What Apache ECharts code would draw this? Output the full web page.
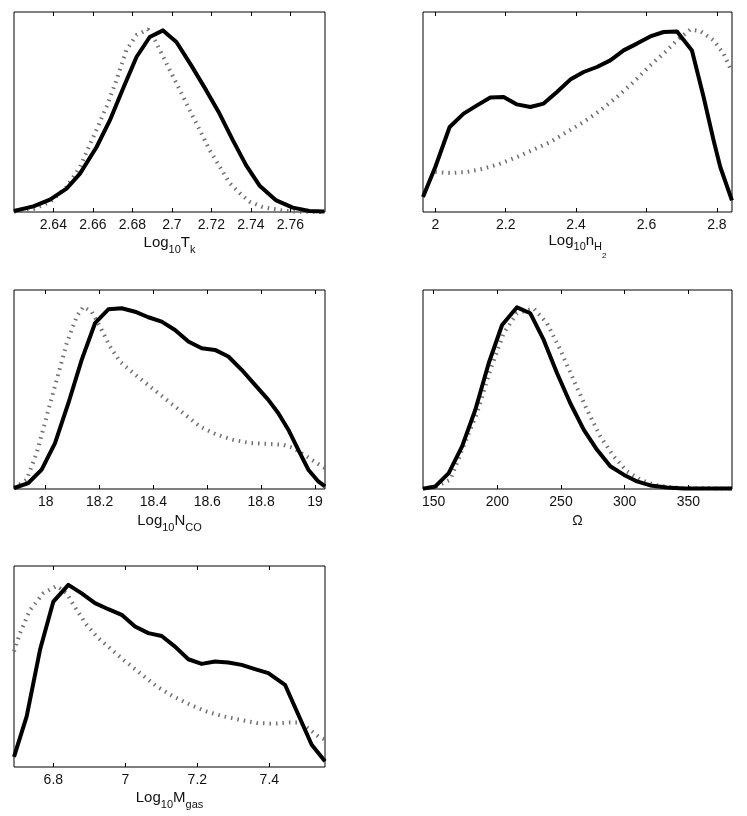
<!DOCTYPE html>
<html>
<head>
<meta charset="utf-8">
<script src="https://cdn.jsdelivr.net/npm/echarts@6/dist/echarts.min.js"></script>
<style>
  html, body { margin: 0; padding: 0; background: #fff; }
  #chart { width: 747px; height: 816px; }
</style>
</head>
<body>
<div id="chart"></div>
<script>
// panel 1: Log10 Tk
const tkTicks = [2.64, 2.66, 2.68, 2.7, 2.72, 2.74, 2.76];
const tkX = [2.6201, 2.6299, 2.6383, 2.6467, 2.6535, 2.6619, 2.6686, 2.6753, 2.6821, 2.6888, 2.6955, 2.7023, 2.7098, 2.7174, 2.7241, 2.7309, 2.7376, 2.7443, 2.7528, 2.7612, 2.7696, 2.7772];
const tkSolid = [0.005, 0.028, 0.062, 0.117, 0.192, 0.325, 0.458, 0.617, 0.775, 0.875, 0.908, 0.85, 0.733, 0.608, 0.492, 0.358, 0.233, 0.133, 0.058, 0.022, 0.005, 0.003];
const tkDotX = [2.6201, 2.6299, 2.6383, 2.6467, 2.6535, 2.6602, 2.6669, 2.672, 2.677, 2.6821, 2.6879, 2.6914, 2.6939, 2.6989, 2.704, 2.709, 2.7141, 2.7191, 2.7242, 2.7292, 2.7343, 2.7393, 2.7459, 2.756, 2.7629, 2.7772];
const tkDotted = [0.002, 0.015, 0.05, 0.125, 0.225, 0.375, 0.525, 0.66, 0.81, 0.885, 0.913, 0.86, 0.81, 0.71, 0.61, 0.51, 0.41, 0.31, 0.227, 0.145, 0.095, 0.052, 0.025, 0.007, 0.002, 0.0];

// panel 2: Log10 nH2
const nhTicks = [2, 2.2, 2.4, 2.6, 2.8];
const nhX = [1.965, 2.0, 2.0407, 2.0805, 2.1184, 2.1563, 2.1941, 2.232, 2.2699, 2.3078, 2.3456, 2.3835, 2.4214, 2.4593, 2.4972, 2.535, 2.5729, 2.6108, 2.6487, 2.6866, 2.7292, 2.7623, 2.7907, 2.8097, 2.8428];
const nhSolid = [0.075, 0.225, 0.425, 0.492, 0.533, 0.572, 0.575, 0.538, 0.525, 0.542, 0.6, 0.662, 0.7, 0.725, 0.758, 0.808, 0.842, 0.878, 0.9, 0.903, 0.808, 0.575, 0.358, 0.225, 0.058];
const nhDotX = [2.0, 2.0426, 2.09, 2.1373, 2.1847, 2.232, 2.2794, 2.3267, 2.3741, 2.4214, 2.4688, 2.5161, 2.5634, 2.6108, 2.6581, 2.6866, 2.7244, 2.7528, 2.7907, 2.8191, 2.8428];
const nhDotted = [0.2, 0.195, 0.2, 0.217, 0.242, 0.275, 0.312, 0.35, 0.4, 0.45, 0.508, 0.575, 0.65, 0.733, 0.808, 0.858, 0.912, 0.905, 0.858, 0.792, 0.7];

// panel 3: Log10 NCO
const ncoTicks = [18, 18.2, 18.4, 18.6, 18.8, 19];
const ncoX = [17.8824, 17.9356, 17.9851, 18.0347, 18.0842, 18.1337, 18.1832, 18.2327, 18.2822, 18.3317, 18.3812, 18.4307, 18.4802, 18.5297, 18.5792, 18.6287, 18.6782, 18.7277, 18.7772, 18.8267, 18.8639, 18.901, 18.9381, 18.9752, 19.0124, 19.0371];
const ncoSolid = [0.005, 0.03, 0.097, 0.231, 0.431, 0.649, 0.833, 0.903, 0.908, 0.891, 0.863, 0.841, 0.799, 0.741, 0.707, 0.699, 0.666, 0.599, 0.523, 0.448, 0.381, 0.298, 0.197, 0.097, 0.038, 0.013];
const ncoDotX = [17.8824, 17.9295, 17.9666, 18.0037, 18.0408, 18.078, 18.1151, 18.1399, 18.1708, 18.2017, 18.2389, 18.276, 18.3255, 18.3874, 18.4493, 18.5111, 18.573, 18.6349, 18.6968, 18.7587, 18.8205, 18.8824, 18.9196, 18.9691, 19.0062, 19.0371];
const ncoDotted = [0.005, 0.047, 0.181, 0.365, 0.548, 0.732, 0.866, 0.916, 0.891, 0.816, 0.716, 0.64, 0.582, 0.515, 0.448, 0.381, 0.314, 0.273, 0.247, 0.231, 0.227, 0.222, 0.206, 0.164, 0.13, 0.105];

// panel 4: Omega
const omTicks = [150, 200, 250, 300, 350];
const omX = [141.6, 151.3, 161.8, 172.3, 182.7, 193.2, 203.7, 215.4, 225.9, 236.4, 246.9, 257.3, 267.8, 278.3, 288.7, 299.2, 309.7, 320.2, 333.2, 346.3, 384.3];
const omSolid = [0.002, 0.013, 0.08, 0.214, 0.398, 0.632, 0.824, 0.913, 0.883, 0.749, 0.582, 0.431, 0.298, 0.197, 0.114, 0.072, 0.038, 0.018, 0.007, 0.002, 0.002];
const omDotX = [141.6, 151.3, 163.1, 172.3, 184.0, 194.5, 205.0, 215.4, 228.5, 239.0, 249.5, 259.9, 270.4, 280.9, 291.4, 301.8, 312.3, 322.8, 333.2, 346.3, 384.3];
const omDotted = [0.002, 0.01, 0.047, 0.197, 0.381, 0.599, 0.783, 0.883, 0.908, 0.833, 0.699, 0.548, 0.398, 0.264, 0.164, 0.089, 0.047, 0.022, 0.01, 0.005, 0.002];

// panel 5: Log10 Mgas
const mgTicks = [6.8, 7, 7.2, 7.4];
const mgX = [6.6907, 6.7259, 6.763, 6.8, 6.8417, 6.8787, 6.9157, 6.9528, 6.9898, 7.0269, 7.0639, 7.1009, 7.138, 7.175, 7.212, 7.2491, 7.2861, 7.3231, 7.3602, 7.3972, 7.4435, 7.4806, 7.5176, 7.5546];
const mgSolid = [0.05, 0.252, 0.583, 0.823, 0.906, 0.864, 0.815, 0.785, 0.757, 0.699, 0.666, 0.652, 0.599, 0.536, 0.513, 0.525, 0.52, 0.508, 0.487, 0.467, 0.409, 0.26, 0.111, 0.028];
const mgDotX = [6.6907, 6.7074, 6.7352, 6.7722, 6.8093, 6.837, 6.8648, 6.8926, 6.9204, 6.9574, 6.9944, 7.0407, 7.087, 7.1333, 7.1796, 7.2259, 7.2722, 7.3185, 7.3648, 7.4111, 7.4574, 7.4852, 7.513, 7.5361, 7.5546];
const mgDotted = [0.575, 0.666, 0.781, 0.864, 0.901, 0.864, 0.781, 0.707, 0.649, 0.591, 0.533, 0.467, 0.401, 0.351, 0.31, 0.276, 0.252, 0.235, 0.219, 0.215, 0.222, 0.222, 0.185, 0.152, 0.136];

const FONT = '"Liberation Sans", Arial, sans-serif';

const panels = [
  { box: [14, 12, 311, 200], min: 2.6201, max: 2.7775, ticks: tkTicks, name: 'Log{s|10}T{s|k}', gap: 19,
    sx: tkX, sy: tkSolid, dx: tkDotX, dy: tkDotted },
  { box: [423, 12, 309, 200], min: 1.965, max: 2.843, ticks: nhTicks, name: 'Log{s|10}n{s|H}{ss|2}', gap: 6,
    sx: nhX, sy: nhSolid, dx: nhDotX, dy: nhDotted },
  { box: [14, 290, 311, 199], min: 17.8824, max: 19.0371, ticks: ncoTicks, name: 'Log{s|10}N{s|CO}', gap: 20,
    sx: ncoX, sy: ncoSolid, dx: ncoDotX, dy: ncoDotted },
  { box: [423, 290, 309, 199], min: 141.6, max: 384.3, ticks: omTicks, name: 'Ω', gap: 25,
    sx: omX, sy: omSolid, dx: omDotX, dy: omDotted },
  { box: [14, 566, 311, 201], min: 6.6907, max: 7.5546, ticks: mgTicks, name: 'Log{s|10}M{s|gas}', gap: 19,
    sx: mgX, sy: mgSolid, dx: mgDotX, dy: mgDotted }
];

const zip = (xs, ys) => xs.map((x, i) => [x, ys[i]]);

const grid = [], xAxis = [], yAxis = [], series = [];
panels.forEach((p, i) => {
  grid.push({
    left: p.box[0], top: p.box[1], width: p.box[2], height: p.box[3],
    show: true, borderColor: '#000', borderWidth: 1, backgroundColor: '#fff'
  });
  const base = {
    type: 'value', gridIndex: i, min: p.min, max: p.max,
    splitLine: { show: false },
    axisLine: { show: false },
    axisTick: { show: true, inside: true, length: 4, customValues: p.ticks, lineStyle: { color: '#000', width: 1 } }
  };
  xAxis.push(Object.assign({}, base, {
    position: 'bottom',
    name: p.name, nameLocation: 'middle', nameGap: p.gap,
    nameTextStyle: {
      color: '#111', fontFamily: FONT, fontSize: p.name === 'Ω' ? 14 : 15,
      rich: {
        s: { fontSize: 11, fontFamily: FONT, color: '#111', padding: [13, 0, 0, 0] },
        ss: { fontSize: 8, fontFamily: FONT, color: '#111', padding: [30, 0, 0, 0] }
      }
    },
    axisLabel: {
      show: true, customValues: p.ticks, margin: 6,
      color: '#111', fontFamily: FONT, fontSize: 14,
      formatter: v => String(+v.toFixed(3))
    }
  }));
  xAxis.push(Object.assign({}, base, {
    position: 'top', axisLabel: { show: false }
  }));
  yAxis.push({
    type: 'value', gridIndex: i, min: 0, max: 1,
    axisLine: { show: false }, axisTick: { show: false },
    axisLabel: { show: false }, splitLine: { show: false }
  });
  series.push({
    type: 'line', xAxisIndex: i * 2, yAxisIndex: i,
    data: zip(p.dx, p.dy), showSymbol: false, silent: true,
    lineStyle: { color: '#707070', width: 4, type: [1.5, 5], cap: 'butt' }
  });
  series.push({
    type: 'line', xAxisIndex: i * 2, yAxisIndex: i,
    data: zip(p.sx, p.sy), showSymbol: false, silent: true,
    lineStyle: { color: '#000', width: 4, join: 'round' }
  });
});

const chart = echarts.init(document.getElementById('chart'), null, { renderer: 'canvas' });
chart.setOption({
  animation: false,
  backgroundColor: '#fff',
  grid, xAxis, yAxis, series
});
</script>
</body>
</html>
